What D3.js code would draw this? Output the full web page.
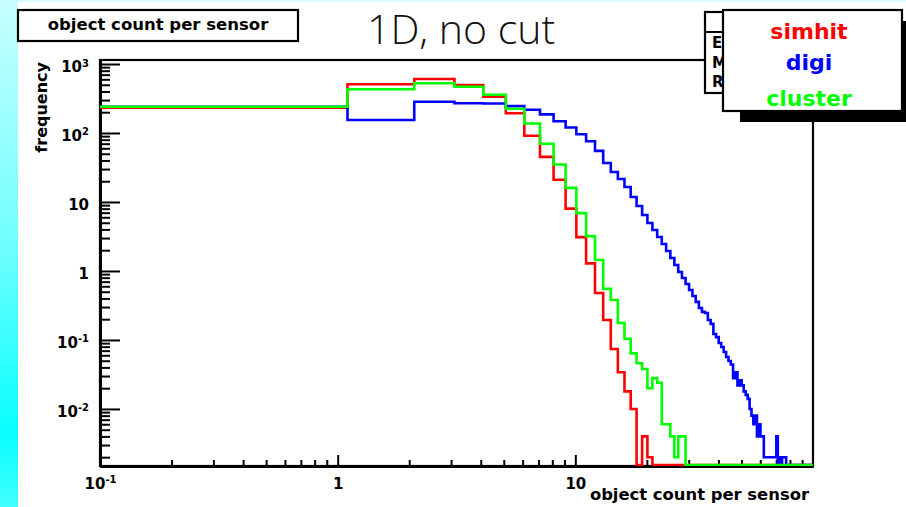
<!DOCTYPE html>
<html>
<head>
<meta charset="utf-8">
<script src="https://cdn.jsdelivr.net/npm/d3@7"></script>
<style>
html, body { margin: 0; padding: 0; background: #fff; }
svg { display: block; }
.bold { font-family: "DejaVu Sans", sans-serif; font-weight: bold; }
.axis path, .axis line { stroke: #000; }
</style>
</head>
<body>
<svg id="chart" width="906" height="507"></svg>
<script>
// histogram binning: bins are 1 wide, first low edge at 0.1.
// only the listed bins have entries, the rest are empty
var binLow = 0.1, binWidth = 1;

var simhit = [232, 508, 607, 497, 336, 193, 91, 45, 21, 8, 3.1, 1.29, 0.48, 0.195,
  0.074, 0.034, 0.018, 0.010, 0, 0.004, 0.002];

var digi = [240, 154, 284, 270, 268, 245, 217, 186, 148, 120, 96, 76, 55,
  36.7, 27.2, 21.5, 16.5, 11.8, 8.74, 6.48, 4.96, 3.93, 3.11, 2.46, 1.95, 1.54,
  1.22, 0.968, 0.792, 0.648, 0.531, 0.434, 0.356, 0.291, 0.255, 0.246, 0.195,
  0.171, 0.122, 0.110, 0.0905, 0.079, 0.067, 0.0567, 0.0496, 0.044, 0.028,
  0.034, 0.022, 0.026, 0.022, 0.018, 0.016, 0.014, 0.010, 0.008, 0.006, 0.008,
  0.004, 0.006, 0.004, 0.004, 0.002, 0.002, 0.002, 0.002, 0.002, 0.002, 0.002,
  0.002, 0.004, 0, 0.002, 0, 0.002, 0.002, 0.002];

var cluster = [240, 430, 525, 469, 359, 225, 137, 70, 35, 16, 6.9, 3.2, 1.44,
  0.55, 0.38, 0.176, 0.104, 0.064, 0.046, 0.038, 0.020, 0.028, 0.024, 0.006,
  0.006, 0.004, 0.002, 0.004, 0.004];

var seriesNames = ["simhit", "digi", "cluster"];
var seriesColors = ["#ff0000", "#0000ff", "#00ff00"];

var xMajor = [0.1, 1, 10];
var xLabels = [["10", "-1"], ["1", ""], ["10", ""]];
var yMajor = [0.01, 0.1, 1, 10, 100, 1000];
var yLabels = [["10", "-2"], ["10", "-1"], ["1", ""], ["10", ""], ["10", "2"], ["10", "3"]];
var statNames = ["Entries", "Mean", "RMS"];

var W = 906, H = 507;
var frame = { left: 100, right: 813, top: 60, bottom: 466 };

var svg = d3.select("#chart");

var x = d3.scaleLog().domain([0.1, 100]).range([frame.left, frame.right]);
var y = d3.scaleLog().domain([0.00149, 1143]).range([frame.bottom, frame.top]);

// slide background
var defs = svg.append("defs");
var grad = defs.append("linearGradient").attr("id", "side")
  .attr("x1", 0).attr("y1", 0).attr("x2", 0).attr("y2", 1);
grad.append("stop").attr("offset", 0).attr("stop-color", "#c8ffff");
grad.append("stop").attr("offset", 0.5).attr("stop-color", "#6cffff");
grad.append("stop").attr("offset", 0.85).attr("stop-color", "#08ffff");
grad.append("stop").attr("offset", 1).attr("stop-color", "#40ffff");
svg.append("rect").attr("x", 0).attr("y", 0).attr("width", 18).attr("height", H)
  .attr("fill", "url(#side)");
svg.append("rect").attr("x", 18).attr("y", 0).attr("width", W - 18).attr("height", 2)
  .attr("fill", "#d4ffff");

defs.append("clipPath").attr("id", "plotclip").append("rect")
  .attr("x", frame.left).attr("y", frame.top)
  .attr("width", frame.right - frame.left).attr("height", frame.bottom - frame.top);

// frame
svg.append("rect")
  .attr("x", frame.left).attr("y", frame.top)
  .attr("width", frame.right - frame.left).attr("height", frame.bottom - frame.top)
  .attr("fill", "none").attr("stroke", "#000").attr("stroke-width", 2.2);

var isMajor = function(v) {
  var l = Math.log10(v);
  return Math.abs(l - Math.round(l)) < 1e-6;
};

function setLabels(sel, labels, majors) {
  sel.selectAll(".tick text").each(function(d) {
    var i = majors.indexOf(d);
    var t = d3.select(this).text("");
    if (i < 0) return;
    t.append("tspan").text(labels[i][0]);
    if (labels[i][1]) {
      t.append("tspan").attr("dy", "-0.55em").attr("font-size", "10px").text(labels[i][1]);
    }
  });
}

// y axis, ticks pointing into the frame
var yMinor = y.ticks().filter(function(v) { return !isMajor(v); });
svg.append("g").attr("class", "axis").attr("transform", "translate(" + frame.left + ",0)")
  .call(d3.axisLeft(y).tickValues(yMinor).tickSizeInner(-10).tickSizeOuter(0).tickFormat(""))
  .call(function(g) { g.selectAll("line").attr("stroke-width", 2); g.select(".domain").attr("stroke-width", 3); });
var yAx = svg.append("g").attr("class", "axis bold").attr("transform", "translate(" + frame.left + ",0)")
  .call(d3.axisLeft(y).tickValues(yMajor).tickSizeInner(-20).tickSizeOuter(0).tickPadding(11))
  .call(function(g) { g.selectAll("line").attr("stroke-width", 2); g.select(".domain").attr("stroke-width", 3); });
yAx.attr("font-family", null).attr("font-size", 15);
yAx.selectAll(".tick text").attr("dy", "0.5em").attr("fill", "#000");
setLabels(yAx, yLabels, yMajor);

// x axis, ticks pointing up
var xMinor = x.ticks().filter(function(v) { return !isMajor(v); });
svg.append("g").attr("class", "axis").attr("transform", "translate(0," + frame.bottom + ")")
  .call(d3.axisBottom(x).tickValues(xMinor).tickSizeInner(-6).tickSizeOuter(0).tickFormat(""))
  .call(function(g) { g.selectAll("line").attr("stroke-width", 2); g.select(".domain").attr("stroke-width", 3); });
var xAx = svg.append("g").attr("class", "axis bold").attr("transform", "translate(0," + frame.bottom + ")")
  .call(d3.axisBottom(x).tickValues(xMajor).tickSizeInner(-11).tickSizeOuter(0).tickPadding(12))
  .call(function(g) { g.selectAll("line").attr("stroke-width", 2); g.select(".domain").attr("stroke-width", 3); });
xAx.attr("font-family", null).attr("font-size", 15);
xAx.selectAll(".tick text").attr("fill", "#000");
setLabels(xAx, xLabels, xMajor);

// histograms, empty bins sit on the bottom of the frame
function histPath(vals) {
  var yb = frame.bottom - 1;
  var yv = function(v) { return v > 0 ? y(v) : yb; };
  var p = "M" + x(binLow) + "," + yv(vals[0]);
  for (var i = 0; i < vals.length; i++) {
    p += "H" + x(binLow + (i + 1) * binWidth);
    p += "V" + (i + 1 < vals.length ? yv(vals[i + 1]) : yb);
  }
  return p + "H" + frame.right;
}

var plot = svg.append("g").attr("clip-path", "url(#plotclip)");
[simhit, digi, cluster].forEach(function(vals, i) {
  plot.append("path")
    .attr("d", histPath(vals))
    .attr("fill", "none")
    .attr("stroke", seriesColors[i])
    .attr("stroke-width", 2.6)
    .attr("stroke-linejoin", "miter");
});

// axis titles
svg.append("text").attr("class", "bold")
  .attr("x", 809).attr("y", 500).attr("text-anchor", "end")
  .attr("font-size", 16.4).text("object count per sensor");
svg.append("text").attr("class", "bold")
  .attr("transform", "translate(47,62) rotate(-90)").attr("text-anchor", "end")
  .attr("font-size", 16).text("frequency");

// histogram title box
svg.append("rect").attr("x", 18).attr("y", 10).attr("width", 280).attr("height", 31)
  .attr("fill", "#fff").attr("stroke", "#000").attr("stroke-width", 2.2);
svg.append("text").attr("class", "bold")
  .attr("x", 158).attr("y", 30).attr("text-anchor", "middle")
  .attr("font-size", 16.5).text("object count per sensor");

// slide title
svg.append("text")
  .attr("x", 367).attr("y", 44)
  .attr("font-family", "'Open Sans', 'DejaVu Sans', sans-serif")
  .attr("font-weight", 300).attr("font-size", 41).attr("fill", "#111")
  .text("1D, no cut");

// stats box (mostly hidden behind the legend)
svg.append("rect").attr("x", 705).attr("y", 12).attr("width", 150).attr("height", 81)
  .attr("fill", "#fff").attr("stroke", "#000").attr("stroke-width", 2.2);
svg.append("line").attr("x1", 705).attr("x2", 855).attr("y1", 32).attr("y2", 32)
  .attr("stroke", "#000").attr("stroke-width", 2);
statNames.forEach(function(s, i) {
  svg.append("text").attr("class", "bold").attr("x", 712).attr("y", 48 + i * 19.5)
    .attr("font-size", 15).text(s);
});

// legend with shadow
svg.append("rect").attr("x", 740).attr("y", 21).attr("width", 180).attr("height", 101)
  .attr("fill", "#000");
svg.append("rect").attr("x", 723).attr("y", 10).attr("width", 179).attr("height", 101)
  .attr("fill", "#fff").attr("stroke", "#000").attr("stroke-width", 2.2);
var legendY = [39, 70, 106];
seriesNames.forEach(function(s, i) {
  svg.append("text").attr("class", "bold")
    .attr("x", 809).attr("y", legendY[i]).attr("text-anchor", "middle")
    .attr("font-size", 22).attr("fill", seriesColors[i]).text(s);
});
</script>
</body>
</html>
